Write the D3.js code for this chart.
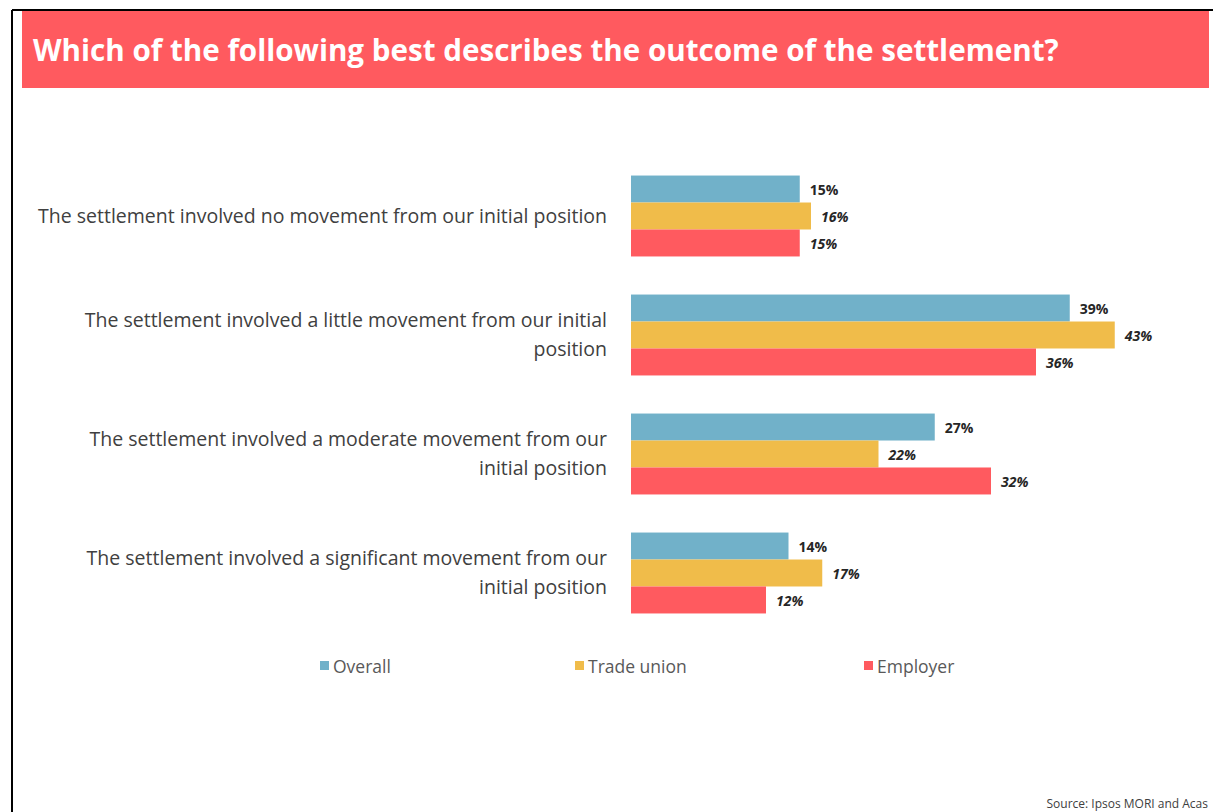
<!DOCTYPE html>
<html>
<head>
<meta charset="utf-8">
<script src="https://cdn.jsdelivr.net/npm/d3@7"></script>
<style>
  html, body { margin: 0; padding: 0; background: #fff; }
  svg { display: block; }
</style>
</head>
<body>
<svg id="chart" width="1213" height="812"></svg>
<script>
// Survey answers, one group of bars per answer
const categories = [
  ["The settlement involved no movement from our initial position"],
  ["The settlement involved a little movement from our initial", "position"],
  ["The settlement involved a moderate movement from our", "initial position"],
  ["The settlement involved a significant movement from our", "initial position"]
];
const seriesNames = ["Overall", "Trade union", "Employer"];
const overall    = [15, 39, 27, 14];
const tradeUnion = [16, 43, 22, 17];
const employer   = [15, 36, 32, 12];
const seriesColors = ["#71B1C9", "#F0BC4A", "#FF5A5F"];

const titleText = "Which of the following best describes the outcome of the settlement?";
const sourceText = "Source: Ipsos MORI and Acas";

const seriesValues = [overall, tradeUnion, employer];
const svg = d3.select("#chart");
const W = 1213, H = 812;
const font = "'Open Sans', 'Noto Sans', sans-serif";

// frame lines along the top and left
svg.append("line").attr("x1", 12).attr("x2", W).attr("y1", 10).attr("y2", 10)
  .attr("stroke", "#000").attr("stroke-width", 2);
svg.append("line").attr("x1", 12).attr("x2", 12).attr("y1", 10).attr("y2", H)
  .attr("stroke", "#000").attr("stroke-width", 2);

// title banner
svg.append("rect").attr("x", 22).attr("y", 11).attr("width", 1187).attr("height", 77)
  .attr("fill", "#FF5A5F");
svg.append("text").attr("x", 33).attr("y", 61)
  .attr("font-family", font).attr("font-weight", 700).attr("font-size", 29.6)
  .attr("fill", "#fff").text(titleText);

// scales
const x = d3.scaleLinear().domain([0, 100]).range([631, 631 + 1125]);
const y0 = d3.scaleBand().domain(d3.range(categories.length))
  .range([156.5, 632.5]).paddingInner(0.32).paddingOuter(0.16);
const y1 = d3.scaleBand().domain(d3.range(seriesNames.length))
  .range([0, y0.bandwidth()]);

const groups = svg.append("g").selectAll("g")
  .data(categories).join("g")
  .attr("transform", (d, i) => `translate(0,${y0(i)})`);

groups.each(function(cat, i) {
  const g = d3.select(this);
  seriesValues.forEach((vals, s) => {
    const v = vals[i];
    g.append("rect")
      .attr("x", x(0)).attr("y", y1(s))
      .attr("width", x(v) - x(0)).attr("height", y1.bandwidth())
      .attr("fill", seriesColors[s]);
    g.append("text")
      .attr("x", x(v) + 10).attr("y", y1(s) + y1.bandwidth() / 2 + 6)
      .attr("font-family", font).attr("font-weight", 700).attr("font-size", 14)
      .attr("font-style", s === 0 ? "normal" : "italic")
      .attr("fill", "#262626").text(v + "%");
  });
  // category label, right aligned
  const lineH = 29;
  const cy = y0.bandwidth() / 2;
  const startY = cy - (cat.length - 1) * lineH / 2 + 7;
  const t = g.append("text")
    .attr("text-anchor", "end")
    .attr("font-family", font).attr("font-size", 19.5).attr("font-weight", 400)
    .attr("fill", "#404040");
  cat.forEach((line, k) => {
    t.append("tspan").attr("x", 607).attr("y", startY + k * lineH).text(line);
  });
});

// legend
const legendX = [320, 575, 864];
const legend = svg.append("g").selectAll("g").data(seriesNames).join("g")
  .attr("transform", (d, i) => `translate(${legendX[i]},661)`);
legend.append("rect").attr("width", 9).attr("height", 9)
  .attr("fill", (d, i) => seriesColors[i]);
legend.append("text").attr("x", 13).attr("y", 11.5)
  .attr("font-family", font).attr("font-size", 17.5).attr("fill", "#595959")
  .text(d => d);

// source
svg.append("text").attr("x", 1208).attr("y", 808).attr("text-anchor", "end")
  .attr("font-family", font).attr("font-size", 12).attr("fill", "#404040")
  .text(sourceText);
</script>
</body>
</html>
